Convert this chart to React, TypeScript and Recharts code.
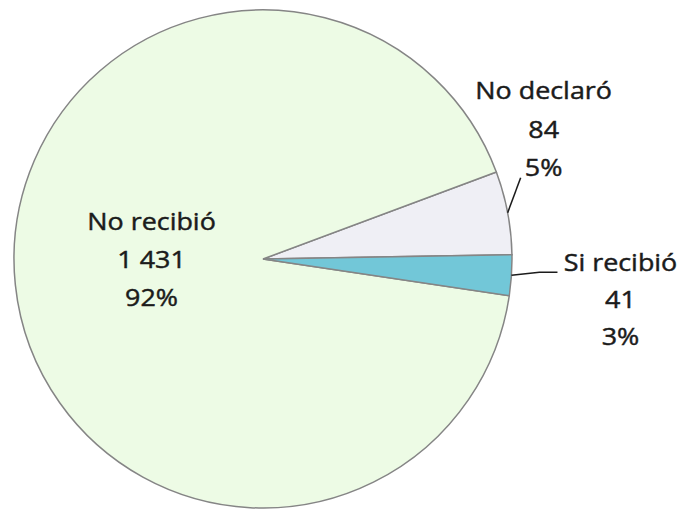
import * as React from "react"
import { PieChart, Pie, Cell } from "recharts"

// Slices are listed counter-clockwise, starting just above 3 o'clock
const categories = ["No declaró", "No recibió", "Si recibió"]
const counts = [84, 1431, 41]
const sliceColors = ["#efeff5", "#edfbe5", "#72c7d8"]

const data = categories.map((name, i) => ({ name, value: counts[i] }))

const RADIAN = Math.PI / 180
const FONT = "'Open Sans', sans-serif"
const FONT_SIZE = 24
const STRETCH = 1.12 // the source text is a little wide
const CAP_MID = FONT_SIZE * 0.357

// "1 431" style thousands separator
const fmt = (n: number) => String(n).replace(/\B(?=(\d{3})+(?!\d))/g, " ")

// three centred lines; y values are the middle of the capitals
const block = (lines: string[], x: number, yFirst: number, step: number) => (
  <g>
    {lines.map((l, i) => (
      <text
        key={i}
        transform={`translate(${x},${yFirst + i * step + CAP_MID}) scale(${STRETCH},1)`}
        x={0}
        y={0}
        textAnchor="middle"
        fontFamily={FONT}
        fontSize={FONT_SIZE}
        fill="#1b1b1b"
        stroke="#1b1b1b"
        strokeWidth={0.45}
      >
        {l}
      </text>
    ))}
  </g>
)

const SliceLabel = (props: any) => {
  const { cx, cy, midAngle, outerRadius, name, value, percent } = props
  const cos = Math.cos(-midAngle * RADIAN)
  const sin = Math.sin(-midAngle * RADIAN)
  const lines = [name, fmt(value), `${Math.round(percent * 100)}%`]

  // big slice: label sits inside
  if (percent > 0.5) {
    const x = cx + outerRadius * 0.45 * cos
    return block(lines, x, cy - 38, 38)
  }

  const sx = cx + outerRadius * cos
  const sy = cy + outerRadius * sin
  if (sin < -0.1) {
    // upper slice: short leader going up
    const ex = sx + 13
    const ey = sy - 35
    return (
      <g>
        <path d={`M${sx},${sy}L${ex},${ey}`} stroke="#1b1b1b" strokeWidth={1.5} fill="none" />
        {block(lines, ex + 23, ey - 87, 38.5)}
      </g>
    )
  }
  // lower slice: leader going right
  const mx = sx + 28
  const my = sy - 3
  const ex = mx + 18
  return (
    <g>
      <path d={`M${sx},${sy}L${mx},${my}L${ex},${my}`} stroke="#1b1b1b" strokeWidth={1.5} fill="none" />
      {block(lines, ex + 63, my - 10, 37)}
    </g>
  )
}

export default function App() {
  return (
    <div style={{ position: "absolute", left: 0, top: 0, width: 686, height: 510, background: "#fff" }}>
      <PieChart width={686} height={510} margin={{ top: 0, right: 0, bottom: 0, left: 0 }}>
        <Pie
          data={data}
          dataKey="value"
          nameKey="name"
          cx={263}
          cy={259}
          outerRadius={249}
          startAngle={1}
          endAngle={361}
          stroke="#858585"
          strokeWidth={1.5}
          label={SliceLabel}
          labelLine={false}
          isAnimationActive={false}
        >
          {data.map((entry, i) => (
            <Cell key={`cell-${i}`} fill={sliceColors[i]} />
          ))}
        </Pie>
      </PieChart>
    </div>
  )
}
